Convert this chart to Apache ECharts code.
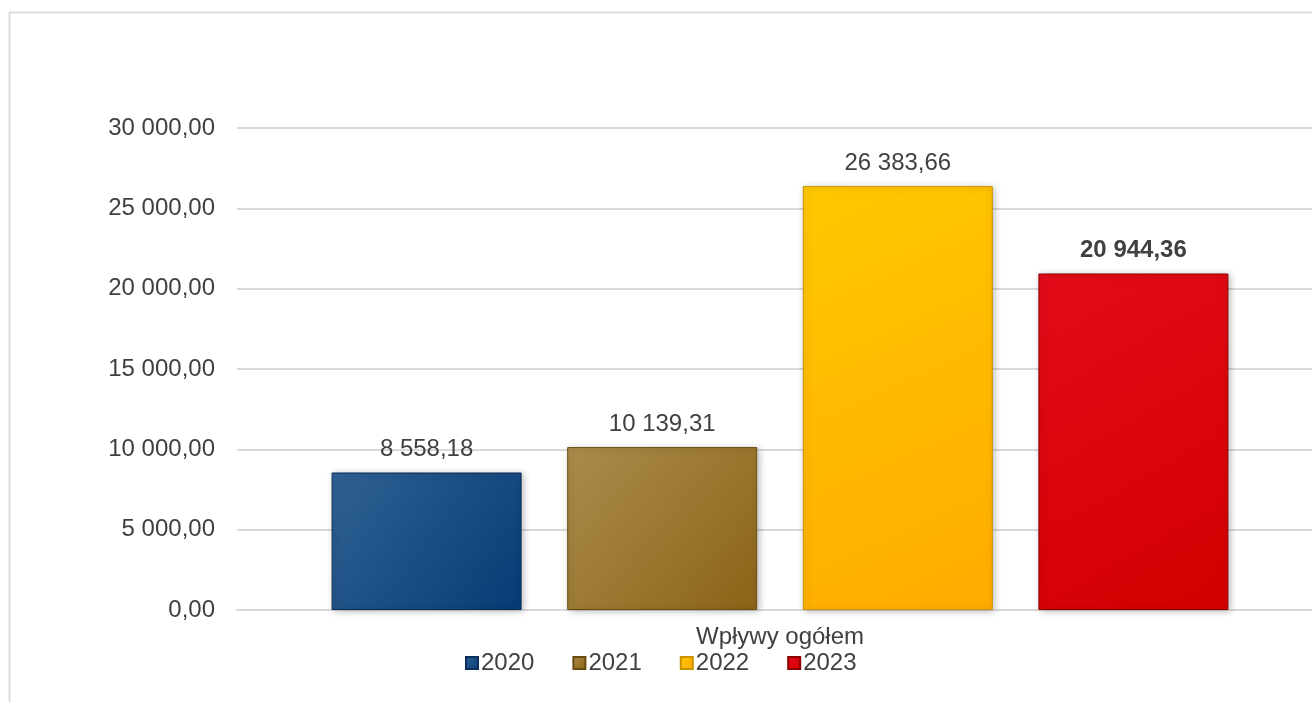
<!DOCTYPE html>
<html>
<head>
<meta charset="utf-8">
<script src="https://cdn.jsdelivr.net/npm/echarts@6/dist/echarts.min.js"></script>
<style>
html,body{margin:0;padding:0;background:#fff;}
#chart{width:1312px;height:702px;}
</style>
</head>
<body>
<div id="chart"></div>
<script>
var categories = ['Wpływy ogółem'];
var seriesNames = ['2020', '2021', '2022', '2023'];
var values2020 = [8558.18];
var values2021 = [10139.31];
var values2022 = [26383.66];
var values2023 = [20944.36];
var yTicks = [0, 5000, 10000, 15000, 20000, 25000, 30000];

function fmt(v) {
  var parts = Number(v).toFixed(2).split('.');
  var intPart = parts[0].replace(/\B(?=(\d{3})+(?!\d))/g, ' ');
  return intPart + ',' + parts[1];
}

var styles = [
  {c1: '#2f6193', c2: '#063b74', border: '#0a2f5a'},
  {c1: '#ab8c4c', c2: '#8b6317', border: '#6a4b10'},
  {c1: '#ffc800', c2: '#ffab00', border: '#c99000'},
  {c1: '#e30b19', c2: '#d20000', border: '#8f0000'}
];
var allValues = [values2020, values2021, values2022, values2023];

var textColor = '#404040';
var font = 'Liberation Sans, Arial, sans-serif';

var series = seriesNames.map(function (name, i) {
  var s = styles[i];
  return {
    name: name,
    type: 'bar',
    data: allValues[i],
    barWidth: 190,
    barGap: '24%',
    itemStyle: {
      color: new echarts.graphic.LinearGradient(0, 0, 1, 1, [
        {offset: 0, color: s.c1},
        {offset: 1, color: s.c2}
      ]),
      borderColor: s.border,
      borderWidth: 1,
      shadowColor: 'rgba(0,0,0,0.28)',
      shadowBlur: 7,
      shadowOffsetX: 2,
      shadowOffsetY: 1
    },
    label: {
      show: true,
      position: 'top',
      distance: 11,
      color: textColor,
      fontFamily: font,
      fontSize: 24,
      fontWeight: i === 3 ? 'bold' : 'normal',
      formatter: function (p) { return fmt(p.value); }
    }
  };
});

var chart = echarts.init(document.getElementById('chart'));
chart.setOption({
  animation: false,
  backgroundColor: '#ffffff',
  graphic: [{
    type: 'rect',
    shape: {x: 9.5, y: 12.5, width: 1400, height: 800},
    style: {fill: 'none', stroke: '#dcdce0', lineWidth: 2},
    z: -1
  }],
  grid: {left: 237, width: 1086, top: 128, bottom: 92, outerBoundsMode: 'none', containLabel: false},
  legend: {
    data: seriesNames,
    left: 460,
    top: 646,
    icon: 'rect',
    itemWidth: 12,
    itemHeight: 12,
    itemGap: 38,
    textStyle: {color: textColor, fontFamily: font, fontSize: 24, padding: [0, 0, 0, -2]}
  },
  xAxis: {
    type: 'category',
    data: categories,
    axisLine: {show: true, lineStyle: {color: '#d9d9d9', width: 2}},
    axisTick: {show: false},
    axisLabel: {color: textColor, fontFamily: font, fontSize: 24, margin: 15}
  },
  yAxis: {
    type: 'value',
    min: yTicks[0],
    max: yTicks[yTicks.length - 1],
    interval: yTicks[1] - yTicks[0],
    axisLine: {show: false},
    axisTick: {show: false},
    splitLine: {lineStyle: {color: '#d9d9d9', width: 2}},
    axisLabel: {
      color: textColor, fontFamily: font, fontSize: 24, margin: 22,
      formatter: function (v) { return fmt(v); }
    }
  },
  series: series
});
</script>
</body>
</html>
